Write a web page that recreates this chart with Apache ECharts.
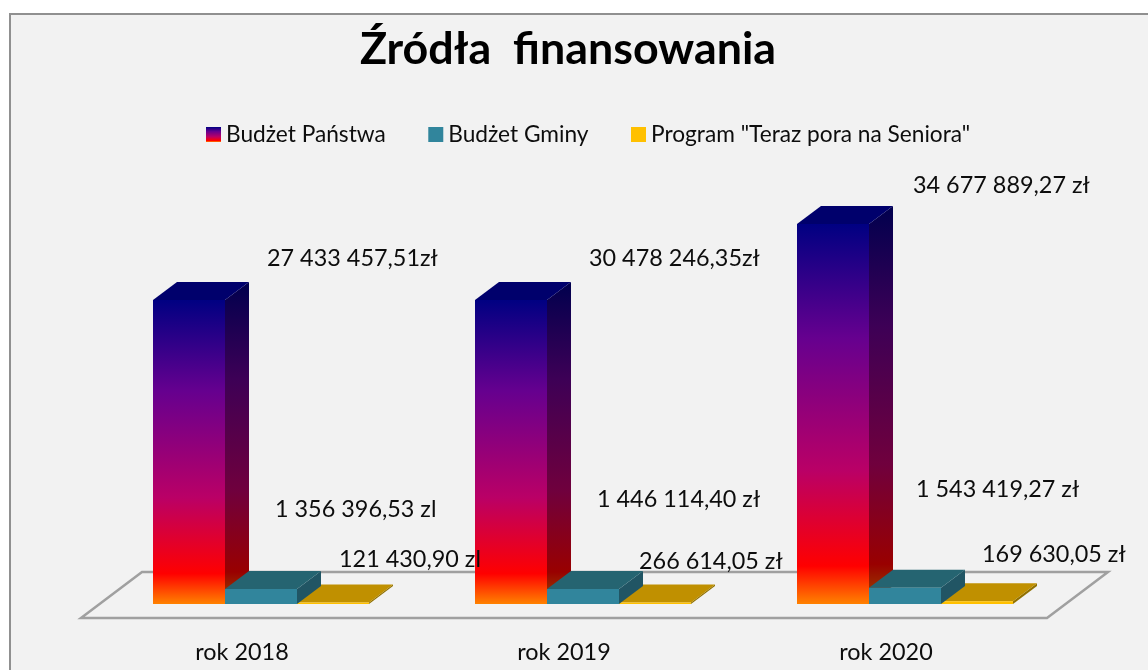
<!DOCTYPE html>
<html>
<head>
<meta charset="utf-8">
<style>html,body{margin:0;padding:0;background:#fff}#c{width:1148px;height:670px}</style>
<script src="https://cdn.jsdelivr.net/npm/echarts@6/dist/echarts.min.js"></script>
</head>
<body>
<div id="c"></div>
<script>
const categories = ['rok 2018', 'rok 2019', 'rok 2020'];
const seriesNames = ['Budżet Państwa', 'Budżet Gminy', 'Program "Teraz pora na Seniora"'];

// Bar heights as drawn in the picture, in PLN. The 2019 bar is drawn as tall as
// the 2018 one although its printed label is larger, so heights and labels differ.
const budzetPanstwa = [27740000, 27740000, 34680000];
const budzetGminy = [1370000, 1370000, 1490000];
const programSenior = [130000, 130000, 240000];

// Labels exactly as printed in the picture.
const labelsPanstwa = ['27 433 457,51zł', '30 478 246,35zł', '34 677 889,27 zł'];
const labelsGminy = ['1 356 396,53 zl', '1 446 114,40 zł', '1 543 419,27 zł'];
const labelsSenior = ['121 430,90 zl', '266 614,05 zł', '169 630,05 zł'];

// Layout and style (pixels / colours), separate from the data.
const BAND = 322, BAR_W = 72, DEPTH_X = 24, DEPTH_Y = 18, GROUP_SHIFT = 19;
const FLOOR_FRONT = 14, FLOOR_BACK = 32, FLOOR_SKEW = 61;
const FONT = 'Lato, "Noto Sans", sans-serif';
const LABEL_FONT = '23.4px ' + FONT;
const TEXT = '#0d0d0d';

const grad = (stops) => ({
  type: 'linear', x: 0, y: 0, x2: 0, y2: 1, global: false,
  colorStops: stops.map(([offset, color]) => ({ offset, color }))
});
const fire = grad([[0, '#000082'], [0.3, '#66008f'], [0.65, '#ba0066'], [0.9, '#ff0000'], [1, '#ff8200']]);
const fireSide = grad([[0, '#00004e'], [0.3, '#3d0056'], [0.65, '#70003d'], [0.9, '#990000'], [1, '#994e00']]);

const styles = [
  { front: fire, side: fireSide, top: '#00006c',
    labels: labelsPanstwa, dx: [114, 114, 116], fromTop: true, dy: [-42, -42, -38] },
  { front: '#31859c', side: '#215564', top: '#256471',
    labels: labelsGminy, dx: [50, 50, 47], fromTop: false, dy: [-95, -105, -115] },
  { front: '#ffc000', side: '#907000', top: '#c09000',
    labels: labelsSenior, dx: [42, 20, 41], fromTop: false, dy: [-45, -43, -50] }
];

function barRenderer(si) {
  const s = styles[si];
  return function (params, api) {
    const i = api.value(0), v = api.value(1);
    const base = api.coord([i, 0]), top = api.coord([i, v]);
    const w = api.size([1, 0])[0] * BAR_W / BAND;
    const xL = base[0] + GROUP_SHIFT + (si - 1.5) * w;
    const xR = xL + w, yB = base[1], yT = top[1];
    return {
      type: 'group',
      children: [
        { type: 'polygon', silent: true,
          shape: { points: [[xR, yT], [xR + DEPTH_X, yT - DEPTH_Y], [xR + DEPTH_X, yB - DEPTH_Y], [xR, yB]] },
          style: { fill: s.side } },
        { type: 'polygon', silent: true,
          shape: { points: [[xL, yT], [xR, yT], [xR + DEPTH_X, yT - DEPTH_Y], [xL + DEPTH_X, yT - DEPTH_Y]] },
          style: { fill: s.top } },
        { type: 'rect', silent: true,
          shape: { x: xL, y: yT, width: w, height: yB - yT },
          style: { fill: s.front } },
        { type: 'text', silent: true, z2: 100,
          x: xL + s.dx[i], y: (s.fromTop ? yT : yB) + s.dy[i],
          style: { text: s.labels[i], font: LABEL_FONT, fill: TEXT, textAlign: 'left', textVerticalAlign: 'middle' } }
      ]
    };
  };
}

function floorRenderer(params, api) {
  const cs = params.coordSys, yB = cs.y + cs.height;
  const x0 = cs.x, x1 = cs.x + cs.width;
  return {
    type: 'polygon', silent: true,
    shape: { points: [[x0, yB + FLOOR_FRONT], [x1, yB + FLOOR_FRONT], [x1 + FLOOR_SKEW, yB - FLOOR_BACK], [x0 + FLOOR_SKEW, yB - FLOOR_BACK]] },
    style: { fill: 'none', stroke: '#a0a0a0', lineWidth: 2.5 }
  };
}

const rows = (vals) => vals.map((v, i) => [i, v]);

const chart = echarts.init(document.getElementById('c'), null, { renderer: 'canvas' });
chart.setOption({
  animation: false,
  backgroundColor: '#ffffff',
  graphic: [{
    type: 'rect', z: -10, silent: true,
    shape: { x: 10, y: 14, width: 1300, height: 800 },
    style: { fill: '#f2f2f2', stroke: '#909090', lineWidth: 2 }
  }],
  title: {
    text: 'Źródła  finansowania', left: 355, top: 22,
    textStyle: { fontFamily: FONT, fontSize: 44.8, fontWeight: 'bold', color: '#000000' }
  },
  legend: {
    left: 201, top: 118, icon: 'rect', itemWidth: 15, itemHeight: 15, itemGap: 42.5,
    data: seriesNames,
    selectedMode: false,
    textStyle: { fontFamily: FONT, fontSize: 22.7, color: TEXT, padding: [2, 0, 0, 0] }
  },
  grid: { left: 81, right: 101, top: 165.6, bottom: 66 },
  xAxis: {
    type: 'category', data: categories,
    axisLine: { show: false }, axisTick: { show: false }, splitLine: { show: false },
    axisLabel: { fontFamily: FONT, fontSize: 23.4, color: TEXT, margin: 37 }
  },
  yAxis: { type: 'value', min: 0, max: 40000000, show: false, splitLine: { show: false } },
  series: [
    { type: 'custom', name: '__floor', renderItem: floorRenderer, data: [[0, 0]], z: 1, silent: true, encode: { x: 0, y: 1 } },
    { type: 'custom', name: seriesNames[0], renderItem: barRenderer(0), data: rows(budzetPanstwa), z: 2, silent: true, encode: { x: 0, y: 1 }, itemStyle: { color: fire } },
    { type: 'custom', name: seriesNames[1], renderItem: barRenderer(1), data: rows(budzetGminy), z: 4, silent: true, encode: { x: 0, y: 1 }, itemStyle: { color: '#31859c' } },
    { type: 'custom', name: seriesNames[2], renderItem: barRenderer(2), data: rows(programSenior), z: 3, silent: true, encode: { x: 0, y: 1 }, itemStyle: { color: '#ffc000' } }
  ]
});
</script>
</body>
</html>
